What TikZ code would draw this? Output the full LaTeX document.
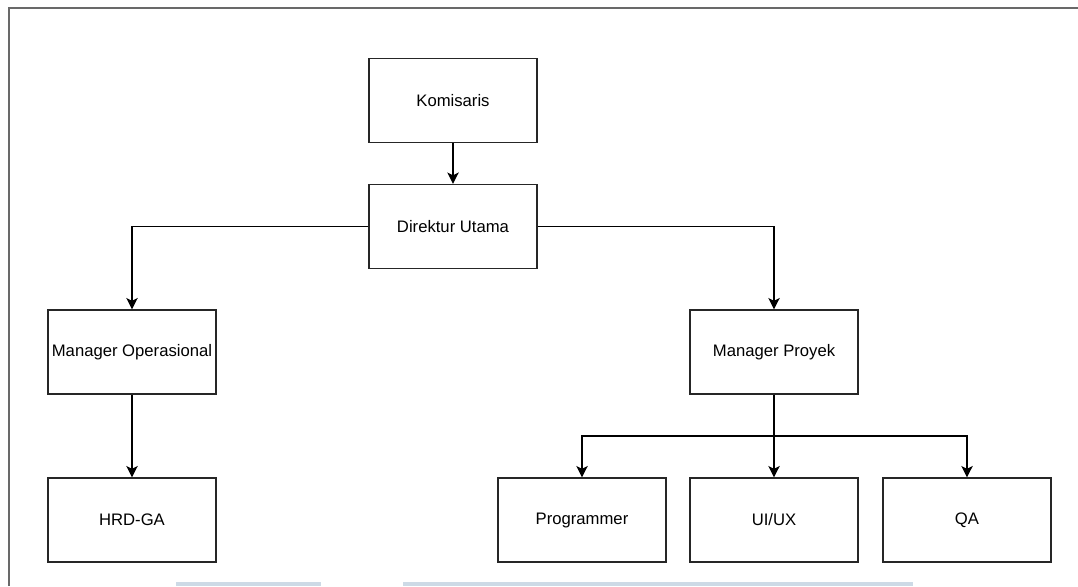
\documentclass[tikz,border=0pt]{standalone}
\usepackage{fontspec}
\setmainfont{Liberation Sans}
\usetikzlibrary{arrows.meta}
\definecolor{framegray}{RGB}{105,105,105}
\definecolor{stripblue}{RGB}{205,218,230}
\tikzset{
  box/.style={draw=black!85, line width=0.9pt, minimum width=126pt, minimum height=63pt, inner sep=0pt, font=\fontsize{12.5}{14}\selectfont},
  link/.style={draw=black, line width=1pt, -{Stealth[length=8.5pt,width=8.5pt,inset=2pt]}}
}
\begin{document}
\begin{tikzpicture}[x=0.75pt,y=-0.75pt]
          \useasboundingbox (0,0) rectangle (1078,586);
          \draw[framegray, line width=1.6pt] (9,586) -- (9,8) -- (1078,8);
          \fill[stripblue] (176,582) rectangle (321,586);
          \fill[stripblue] (403,582) rectangle (913,586);

          \node[box] (A) at (453,100.5) {Komisaris};
          \node[box] (B) at (453,226.5) {Direktur Utama};
          \node[box] (C) at (132,352) {Manager Operasional};
          \node[box] (D) at (774,352) {Manager Proyek};
          \node[box] (E) at (132,520) {HRD-GA};
          \node[box] (F) at (582,520) {Programmer};
          \node[box] (G) at (774,520) {UI/UX};
          \node[box] (H) at (967,520) {QA};
          \coordinate (S) at (774,436);

          \draw[link] (A) -- (B);
          \draw[link] (B.west) -| (C.north);
          \draw[link] (B.east) -| (D.north);
          \draw[link] (C) -- (E);
          \draw[link] (D) -- (G);
          \draw[link] (S) -| (F.north);
          \draw[link] (S) -| (H.north);
        \end{tikzpicture}
\end{document}
